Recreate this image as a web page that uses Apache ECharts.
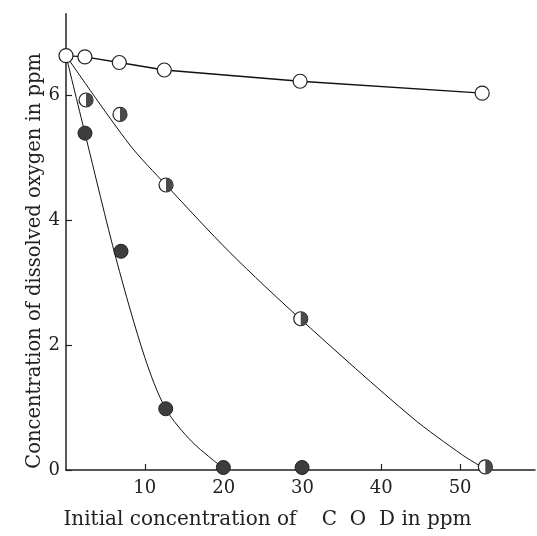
<!DOCTYPE html>
<html>
<head>
<meta charset="utf-8">
<script src="https://cdn.jsdelivr.net/npm/echarts@6/dist/echarts.min.js"></script>
<style>
html,body{margin:0;padding:0;background:#fff;}
#c{width:537px;height:536px;}
</style>
</head>
<body>
<div id="c"></div>
<script>
// Data
var xTicks = [10, 20, 30, 40, 50];
var yTicks = [0, 2, 4, 6];

// open circles
var openX = [0, 2.4, 6.76, 12.47, 29.7, 52.8];
var openY = [6.63, 6.61, 6.52, 6.40, 6.22, 6.03];

// half-filled circles
var halfX = [2.54, 6.85, 12.69, 29.78, 53.2];
var halfY = [5.92, 5.69, 4.56, 2.42, 0.05];

// filled circles
var fullX = [2.41, 6.98, 12.65, 19.96, 29.95];
var fullY = [5.39, 3.50, 0.98, 0.04, 0.04];

// fitted curve through the half-filled circles
var midCurveX = [0, 8.1, 12.7, 20.8, 29.7, 43.9, 50.3, 53.0];
var midCurveY = [6.63, 5.20, 4.56, 3.48, 2.42, 0.84, 0.24, 0.03];

// fitted curve through the filled circles
var lowCurveX = [0, 2.4, 6.4, 10.0, 12.65, 16.0, 19.96];
var lowCurveY = [6.63, 5.39, 3.36, 1.80, 0.98, 0.45, 0.03];

function pairs(xs, ys) { return xs.map(function (x, i) { return [x, ys[i]]; }); }

var FONT = 'DejaVu Serif';
var chart = echarts.init(document.getElementById('c'), null, {renderer: 'canvas'});
chart.setOption({
  animation: false,
  backgroundColor: '#fff',
  grid: {left: 66, right: 2, top: 13.75, bottom: 66},
  xAxis: {
    type: 'value', min: 0, max: 59.5, interval: 10,
    name: 'Initial concentration of    C  O  D in ppm',
    nameLocation: 'middle', nameGap: 40, nameMoveOverlap: false,
    nameTextStyle: {fontFamily: FONT, fontSize: 20, color: '#222', padding: [0, 66, 0, 0]},
    axisLine: {lineStyle: {color: '#222', width: 1.5}},
    axisTick: {inside: true, length: 6, customValues: xTicks, lineStyle: {color: '#222', width: 1.2}},
    axisLabel: {fontFamily: FONT, fontSize: 18, color: '#222', margin: 9, customValues: xTicks},
    splitLine: {show: false}
  },
  yAxis: {
    type: 'value', min: 0, max: 7.3, interval: 2,
    name: 'Concentration of dissolved oxygen in ppm',
    nameLocation: 'middle', nameGap: 21, nameMoveOverlap: false,
    nameTextStyle: {fontFamily: FONT, fontSize: 19.5, color: '#222', padding: [0, 38, 0, 0]},
    axisLine: {lineStyle: {color: '#222', width: 1.5}},
    axisTick: {inside: true, length: 6, customValues: yTicks, lineStyle: {color: '#222', width: 1.2}},
    axisLabel: {fontFamily: FONT, fontSize: 18, color: '#222', margin: 6, customValues: yTicks},
    splitLine: {show: false}
  },
  series: [
    {
      type: 'line', data: pairs(midCurveX, midCurveY), smooth: 0.3,
      showSymbol: false, symbol: 'none',
      lineStyle: {color: '#111', width: 1}, z: 2
    },
    {
      type: 'line', data: pairs(lowCurveX, lowCurveY), smooth: 0.3,
      showSymbol: false, symbol: 'none',
      lineStyle: {color: '#111', width: 1}, z: 2
    },
    {
      type: 'line', data: pairs(openX, openY), smooth: false,
      symbol: 'circle', symbolSize: 14, showSymbol: true,
      lineStyle: {color: '#111', width: 1.4},
      itemStyle: {color: '#fff', borderColor: '#222', borderWidth: 1.2},
      z: 5
    },
    {
      type: 'scatter', data: pairs(halfX, halfY),
      symbol: 'circle', symbolSize: 14,
      itemStyle: {color: '#fff', borderColor: '#222', borderWidth: 1.2, opacity: 1},
      z: 6
    },
    {
      type: 'scatter', data: pairs(halfX, halfY),
      symbol: 'path://M0,0 A10,10 0 0 1 0,20 Z',
      symbolSize: [7, 14], symbolOffset: [3.5, 0],
      itemStyle: {color: '#4a4a4a', opacity: 1},
      z: 7
    },
    {
      type: 'scatter', data: pairs(fullX, fullY),
      symbol: 'circle', symbolSize: 14,
      itemStyle: {color: '#3d3d3d', borderColor: '#222', borderWidth: 1, opacity: 1},
      z: 6
    }
  ]
});
</script>
</body>
</html>
